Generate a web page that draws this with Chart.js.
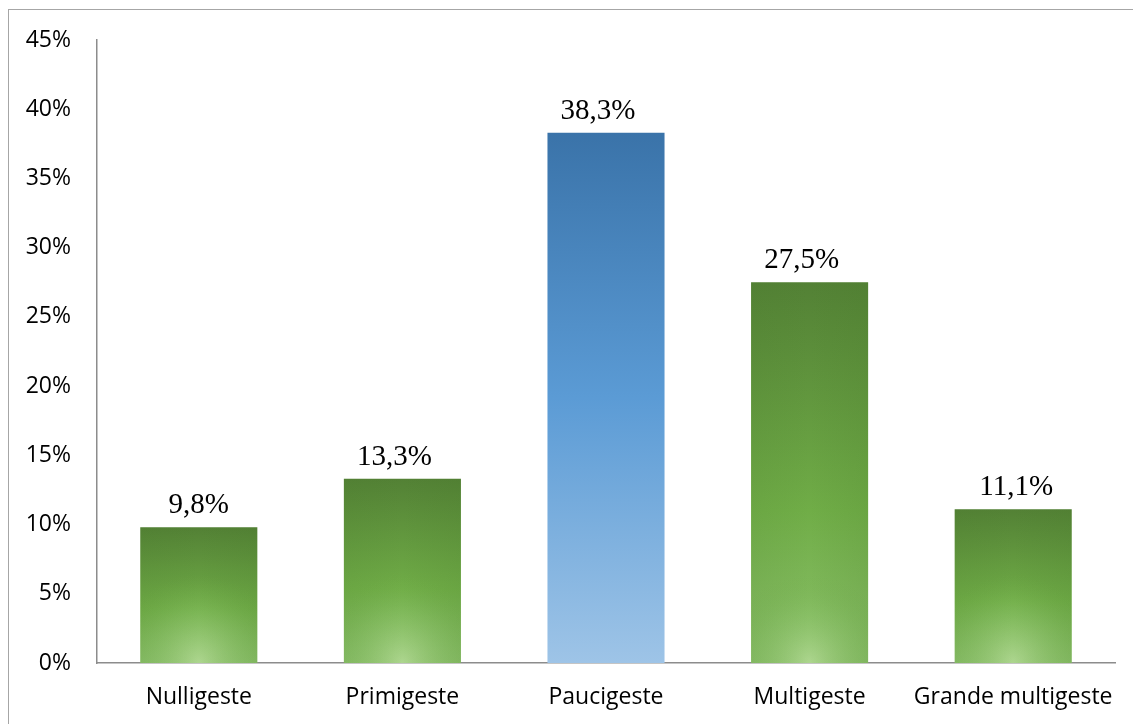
<!DOCTYPE html>
<html>
<head>
<meta charset="utf-8">
<script src="https://cdn.jsdelivr.net/npm/chart.js@4.4.1/dist/chart.umd.min.js"></script>
<style>
  html, body { margin: 0; padding: 0; background: #fff; overflow: hidden; }
  #wrap { position: relative; width: 1133px; height: 724px; }
  #frame { position: absolute; left: 8px; top: 9px; width: 1200px; height: 800px;
           border: 1.5px solid #a6a6a6; box-sizing: border-box; pointer-events: none; }
  canvas { position: absolute; left: 0; top: 0; }
</style>
</head>
<body>
<div id="wrap">
  <div id="frame"></div>
  <canvas id="c" width="1133" height="724"></canvas>
</div>
<script>
// Categories and values (percent)
const categories = ['Nulligeste', 'Primigeste', 'Paucigeste', 'Multigeste', 'Grande multigeste'];
const values = [9.8, 13.3, 38.3, 27.5, 11.1];
const valueLabels = ['9,8%', '13,3%', '38,3%', '27,5%', '11,1%'];
const highlighted = [false, false, true, false, false];

const GREEN = ['#538135', '#70ad47', '#8cc16b'];
const BLUE = ['#3a73a9', '#5b9bd5', '#9ec4e7'];

// horizontal nudge (px) of each value label relative to its bar centre
const labelNudge = [0, -8, -8, -8, 3];

function barFill(context) {
  const chart = context.chart;
  const y = chart.scales.y;
  if (!y || !chart.chartArea) return '#70ad47';
  const v = values[context.dataIndex];
  const top = y.getPixelForValue(v);
  const base = y.getPixelForValue(0);
  const g = chart.ctx.createLinearGradient(0, top, 0, base);
  const c = highlighted[context.dataIndex] ? BLUE : GREEN;
  g.addColorStop(0, c[0]);
  g.addColorStop(highlighted[context.dataIndex] ? 0.5 : 0.6, c[1]);
  g.addColorStop(1, c[2]);
  return g;
}

// soft radial highlight at the foot of the green bars
const glowPlugin = {
  id: 'glow',
  afterDatasetsDraw(chart) {
    const ctx = chart.ctx;
    const meta = chart.getDatasetMeta(0);
    meta.data.forEach((bar, i) => {
      if (highlighted[i]) return;
      const p = bar.getProps(['x', 'y', 'base', 'width'], true);
      const left = p.x - p.width / 2;
      const h = p.base - p.y;
      ctx.save();
      ctx.beginPath();
      ctx.rect(left, p.y, p.width, h);
      ctx.clip();
      const r = Math.min(p.width * 0.75, h * 1.1);
      const g = ctx.createRadialGradient(p.x, p.base, 0, p.x, p.base, r);
      g.addColorStop(0, 'rgba(175,215,145,0.95)');
      g.addColorStop(0.6, 'rgba(140,195,105,0.35)');
      g.addColorStop(1, 'rgba(112,173,71,0)');
      ctx.fillStyle = g;
      ctx.fillRect(left, p.y, p.width, h);
      // darker side shading
      const s = ctx.createLinearGradient(left, 0, left + p.width, 0);
      s.addColorStop(0, 'rgba(70,120,40,0.12)');
      s.addColorStop(0.5, 'rgba(70,120,40,0)');
      s.addColorStop(1, 'rgba(70,120,40,0.15)');
      ctx.fillStyle = s;
      ctx.fillRect(left, p.y, p.width, h);
      ctx.restore();
    });
  }
};

// value labels above each bar
const valueLabelPlugin = {
  id: 'valueLabels',
  afterDatasetsDraw(chart) {
    const ctx = chart.ctx;
    const meta = chart.getDatasetMeta(0);
    ctx.save();
    ctx.font = '29px "Liberation Serif", "Times New Roman", serif';
    ctx.fillStyle = '#000';
    ctx.textAlign = 'center';
    ctx.textBaseline = 'alphabetic';
    meta.data.forEach((bar, i) => {
      ctx.fillText(valueLabels[i], bar.x + labelNudge[i], bar.y - 14);
    });
    ctx.restore();
  }
};

new Chart(document.getElementById('c'), {
  type: 'bar',
  data: {
    labels: categories,
    datasets: [{
      data: values,
      backgroundColor: barFill,
      borderWidth: 0,
      barPercentage: 0.575,
      categoryPercentage: 1
    }]
  },
  options: {
    responsive: false,
    animation: false,
    events: [],
    layout: { padding: { left: 0, right: 18, top: 40, bottom: 0 } },
    plugins: { legend: { display: false }, tooltip: { enabled: false } },
    scales: {
      y: {
        min: 0, max: 45,
        afterFit(scale) { scale.width = 97; },
        ticks: {
          stepSize: 5,
          padding: 26,
          color: '#000',
          font: { family: '"Open Sans", "Liberation Sans", sans-serif', size: 23 },
          callback: v => v + '%'
        },
        grid: { display: false, drawTicks: false },
        border: { display: true, color: '#8c8c8c', width: 1.5 }
      },
      x: {
        afterFit(scale) {
          scale.height = 61;
          scale.paddingLeft = 0;
          scale.paddingRight = 0;
        },
        ticks: {
          padding: 21,
          autoSkip: false,
          maxRotation: 0,
          minRotation: 0,
          color: '#000',
          font: { family: '"Open Sans", "Liberation Sans", sans-serif', size: 23 }
        },
        grid: { display: false, drawTicks: false },
        border: { display: true, color: '#8c8c8c', width: 1.5 }
      }
    }
  },
  plugins: [glowPlugin, valueLabelPlugin]
});
</script>
</body>
</html>
